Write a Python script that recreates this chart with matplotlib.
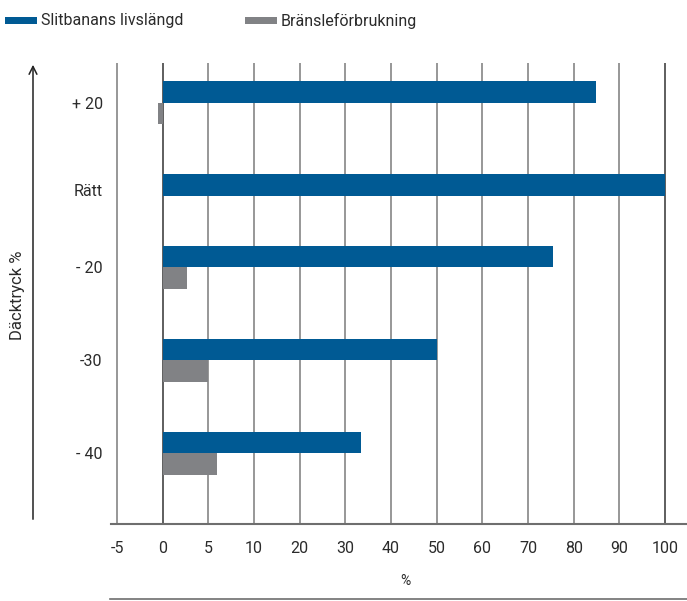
import numpy as np
import matplotlib
matplotlib.use("Agg")
import matplotlib.pyplot as plt
from matplotlib.patches import Rectangle, FancyArrowPatch
from matplotlib.lines import Line2D

# Data
categories = ["+ 20", "Rätt", "- 20", "-30", "- 40"]
tread_life = [85, 100, 75.5, 50, 33.5]        # Slitbanans livslängd (%)
fuel_use = [-0.5, 0, 2.7, 5, 5.9]              # Bränsleförbrukning (%)
x_ticks = [-5, 0, 5, 10, 20, 30, 40, 50, 60, 70, 80, 90, 100]
series_names = ["Slitbanans livslängd", "Bränsleförbrukning"]

# Layout: vertical row positions (the "Rätt" to "- 20" gap is narrower)
row_pos = [0.0, 1.0, 1.77, 2.77, 3.77]
label_shift = [0.0, -0.06, 0.0, 0.0, 0.0]
bar_h = 0.233

BLUE = "#005a94"
GREY = "#818285"
TXT = "#2b2b2b"

plt.rcParams["font.family"] = ["Roboto", "DejaVu Sans"]

W, H = 687, 601
fig = plt.figure(figsize=(W / 100, H / 100), dpi=100)

def px_box(l, t, r, b):
    return [l / W, 1 - b / H, (r - l) / W, (b - t) / H]

ax = fig.add_axes(px_box(111, 63, 687, 524))

# piecewise axis: 5-unit steps up to 10, 10-unit steps after
def fwd(x):
    x = np.asarray(x, dtype=float)
    return np.where(x <= 10, x / 5.0, 2.0 + (x - 10.0) / 10.0)

def inv(u):
    u = np.asarray(u, dtype=float)
    return np.where(u <= 2, u * 5.0, 10.0 + (u - 2.0) * 10.0)

ax.set_xscale("function", functions=(fwd, inv))
ax.set_xlim(float(inv(-1.1314)), float(inv(11.4818)))
ax.set_ylim(4.530, -0.427)

# grid lines
for v in x_ticks:
    col = "#333333" if v in (0, 100) else "#7a7a7a"
    ax.axvline(v, color=col, lw=1.1, zorder=1)

pos = np.array(row_pos)
ax.barh(pos - bar_h / 2, tread_life, height=bar_h, color=BLUE, zorder=3,
        label=series_names[0])
ax.barh(pos + bar_h / 2, fuel_use, height=bar_h, color=GREY, zorder=3,
        label=series_names[1])

ax.set_xticks(x_ticks)
ax.set_xticklabels([str(t) for t in x_ticks])
ax.xaxis.set_minor_locator(matplotlib.ticker.NullLocator())
ax.tick_params(axis="x", length=0, pad=12, labelsize=11.5, labelcolor=TXT)
ax.set_yticks(pos + np.array(label_shift))
ax.set_yticklabels(categories)
ax.tick_params(axis="y", length=0, pad=6, labelsize=11.5, labelcolor=TXT)

for s in ("top", "right", "left"):
    ax.spines[s].set_visible(False)
ax.spines["bottom"].set_color("#6e6e6e")
ax.spines["bottom"].set_linewidth(1.5)
ax.set_facecolor("none")

# vertical axis arrow and title
fig.add_artist(FancyArrowPatch((33 / W, 1 - 522 / H), (33 / W, 1 - 62 / H),
                               transform=fig.transFigure, arrowstyle="->",
                               mutation_scale=14, color="#222222", lw=1.1))
fig.text(18 / W, 1 - 295 / H, "Däcktryck %", rotation=90, ha="center",
         va="center", fontsize=12, color=TXT)

# x-axis unit and bottom rule
fig.text(405 / W, 1 - 581 / H, "%", ha="center", va="center",
         fontsize=10, color=TXT)
fig.add_artist(Line2D([110 / W, 1.0], [1 - 599 / H, 1 - 599 / H],
                      transform=fig.transFigure, color="#6e6e6e", lw=1.2))

# legend
for (x0, name, col) in [(5, series_names[0], BLUE), (245, series_names[1], GREY)]:
    fig.add_artist(Rectangle((x0 / W, 1 - 24 / H), 32 / W, 7 / H,
                             transform=fig.transFigure, color=col, lw=0))
    fig.text((x0 + 36) / W, 1 - 21 / H, name, ha="left", va="center",
             fontsize=11.5, color=TXT)

fig.savefig("out.png", dpi=100)
